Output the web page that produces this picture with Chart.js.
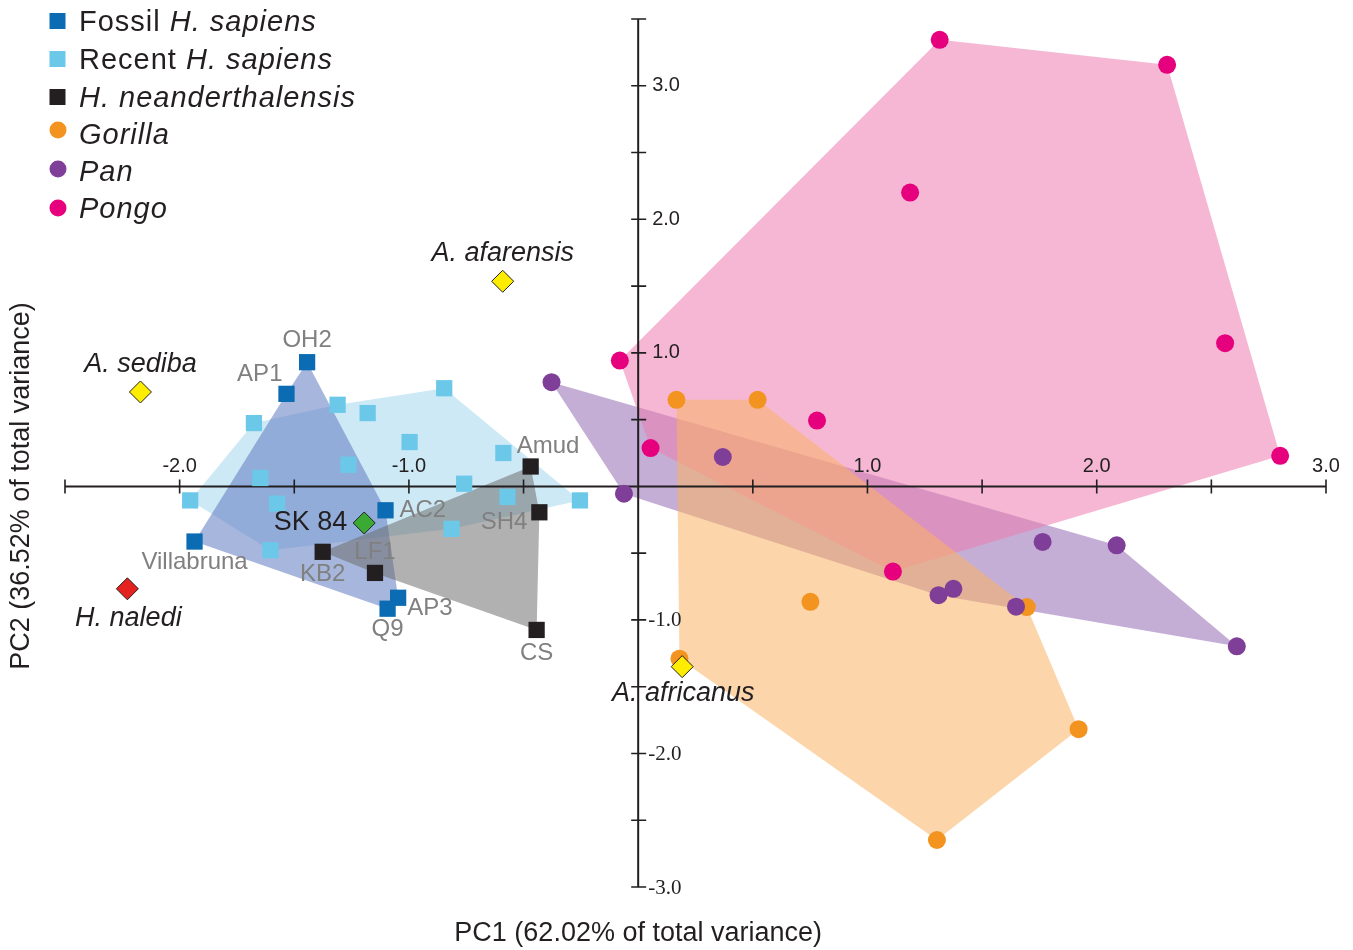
<!DOCTYPE html>
<html>
<head>
<meta charset="utf-8">
<script src="https://cdn.jsdelivr.net/npm/chart.js@4.4.0/dist/chart.umd.min.js"></script>
<style>
  html, body { margin: 0; padding: 0; background: #ffffff; }
  canvas { display: block; }
</style>
</head>
<body>
<canvas id="pca" width="1353" height="950"></canvas>
<script>
// ---- PC scores (PC1, PC2) per group ----
const fossilSapiensIds = ['OH2', 'AP1', 'Villabruna', 'AC2', 'AP3', 'Q9'];
const fossilSapiensPC1 = [-1.444, -1.534, -1.935, -1.102, -1.047, -1.093];
const fossilSapiensPC2 = [0.930, 0.693, -0.413, -0.179, -0.834, -0.916];

const recentSapiensPC1 = [-1.676, -1.311, -1.180, -0.846, -0.997, -1.264, -1.648, -1.954, -1.575, -1.604, -0.588, -0.759, -0.570, -0.254, -0.814];
const recentSapiensPC2 = [0.474, 0.611, 0.549, 0.735, 0.332, 0.162, 0.063, -0.105, -0.129, -0.478, 0.250, 0.020, -0.079, -0.105, -0.318];

const neanderthalIds = ['Amud', 'SH4', 'CS', 'KB2', 'LF1'];
const neanderthalPC1 = [-0.469, -0.431, -0.443, -1.376, -1.148];
const neanderthalPC2 = [0.149, -0.194, -1.075, -0.490, -0.648];

const gorillaPC1 = [0.167, 0.521, 0.751, 1.695, 1.921, 1.303, 0.180];
const gorillaPC2 = [0.648, 0.648, -0.864, -0.904, -1.818, -2.648, -1.290];

const panPC1 = [-0.378, -0.062, 0.369, 1.764, 2.087, 1.310, 1.375, 1.648, 2.611];
const panPC2 = [0.780, -0.055, 0.220, -0.416, -0.441, -0.815, -0.767, -0.901, -1.198];

const pongoPC1 = [-0.080, 0.054, 0.780, 1.111, 1.315, 2.307, 1.186, 2.560, 2.800];
const pongoPC2 = [0.942, 0.287, 0.493, -0.638, 3.344, 3.157, 2.200, 1.072, 0.229];

// Individual specimens shown as diamonds
const singleIds = ['A. sediba', 'H. naledi', 'SK 84', 'A. afarensis', 'A. africanus'];
const singlePC1 = [-2.171, -2.228, -1.195, -0.591, 0.192];
const singlePC2 = [0.707, -0.767, -0.274, 1.536, -1.350];

// ---- axes ----
const xRange = [-2.5, 3.0];
const yRange = [-3.0, 3.5];
const xTickValues = [-2.5, -2.0, -1.5, -1.0, -0.5, 0.5, 1.0, 1.5, 2.0, 2.5, 3.0];
const yTickValues = [3.5, 3.0, 2.5, 2.0, 1.5, 1.0, 0.5, -0.5, -1.0, -1.5, -2.0, -2.5, -3.0];
const xTickLabelValues = [-2.0, -1.0, 1.0, 2.0, 3.0];
const xTickLabels = ['-2.0', '-1.0', '1.0', '2.0', '3.0'];
const yTickLabelValues = [3.0, 2.0, 1.0, -1.0, -2.0, -3.0];
const yTickLabels = ['3.0', '2.0', '1.0', '-1.0', '-2.0', '-3.0'];
const xTitle = 'PC1 (62.02% of total variance)';
const yTitle = 'PC2 (36.52% of total variance)';

// ---- legend entries: [plain part, italic part] ----
const legendLabels = [
  ['Fossil ', 'H. sapiens'],
  ['Recent ', 'H. sapiens'],
  ['', 'H. neanderthalensis'],
  ['', 'Gorilla'],
  ['', 'Pan'],
  ['', 'Pongo']
];

// ---- styling ----
const INK = '#231f20';
const SANS = '"Liberation Sans", Arial, sans-serif';
const SERIF = '"Liberation Serif", "Times New Roman", serif';

const groupStyle = {
  fossil:  { color: '#0b6cb3', hull: 'rgba(95,122,192,0.55)',  shape: 'rect',   r: 11.5 },
  recent:  { color: '#6cc8e8', hull: 'rgba(166,215,239,0.55)', shape: 'rect',   r: 11.5 },
  neander: { color: '#231f20', hull: 'rgba(105,105,105,0.52)', shape: 'rect',   r: 11.5 },
  gorilla: { color: '#f39320', hull: 'rgba(250,179,100,0.55)', shape: 'circle', r: 9 },
  pan:     { color: '#7f3f98', hull: 'rgba(148,108,179,0.55)', shape: 'circle', r: 9 },
  pongo:   { color: '#e6007e', hull: 'rgba(237,124,175,0.55)', shape: 'circle', r: 9 }
};
const singleColors = ['#ffed00', '#e42320', '#3aaa35', '#ffed00', '#ffed00'];

// Label placement around each marker (pixel offsets)
const labelPlacement = {
  'OH2':          { dx: 0,   dy: -22, align: 'center', kind: 'specimen' },
  'AP1':          { dx: -4,  dy: -19, align: 'right',  kind: 'specimen' },
  'Villabruna':   { dx: 0,   dy: 21,  align: 'center', kind: 'specimen' },
  'AC2':          { dx: 14,  dy: 0,   align: 'left',   kind: 'specimen' },
  'AP3':          { dx: 9,   dy: 11,  align: 'left',   kind: 'specimen' },
  'Q9':           { dx: 0,   dy: 21,  align: 'center', kind: 'specimen' },
  'Amud':         { dx: -14, dy: -20, align: 'left',   kind: 'specimen' },
  'SH4':          { dx: -12, dy: 10,  align: 'right',  kind: 'specimen' },
  'CS':           { dx: 0,   dy: 23,  align: 'center', kind: 'specimen' },
  'KB2':          { dx: 0,   dy: 23,  align: 'center', kind: 'specimen' },
  'LF1':          { dx: 0,   dy: -21, align: 'center', kind: 'specimen' },
  'SK 84':        { dx: -17, dy: 0,   align: 'right',  kind: 'focus' },
  'A. sediba':    { dx: 0,   dy: -27, align: 'center', kind: 'species' },
  'H. naledi':    { dx: 1,   dy: 30,  align: 'center', kind: 'species' },
  'A. afarensis': { dx: 0,   dy: -28, align: 'center', kind: 'species' },
  'A. africanus': { dx: 1,   dy: 27,  align: 'center', kind: 'species' }
};

// ---- helpers ----
function toPoints(xs, ys, ids) {
  return xs.map((v, i) => ({ x: v, y: ys[i], id: ids ? ids[i] : null }));
}

// Andrew's monotone chain; returns a closed ring
function convexHull(pts) {
  const p = pts.map(q => ({ x: q.x, y: q.y })).sort((a, b) => a.x - b.x || a.y - b.y);
  const cross = (o, a, b) => (a.x - o.x) * (b.y - o.y) - (a.y - o.y) * (b.x - o.x);
  const lower = [], upper = [];
  for (const q of p) {
    while (lower.length >= 2 && cross(lower[lower.length - 2], lower[lower.length - 1], q) <= 0) lower.pop();
    lower.push(q);
  }
  for (let i = p.length - 1; i >= 0; i--) {
    const q = p[i];
    while (upper.length >= 2 && cross(upper[upper.length - 2], upper[upper.length - 1], q) <= 0) upper.pop();
    upper.push(q);
  }
  lower.pop(); upper.pop();
  const ring = lower.concat(upper);
  ring.push(ring[0]);
  return ring;
}

const groups = {
  fossil:  toPoints(fossilSapiensPC1, fossilSapiensPC2, fossilSapiensIds),
  recent:  toPoints(recentSapiensPC1, recentSapiensPC2),
  neander: toPoints(neanderthalPC1, neanderthalPC2, neanderthalIds),
  gorilla: toPoints(gorillaPC1, gorillaPC2),
  pan:     toPoints(panPC1, panPC2),
  pongo:   toPoints(pongoPC1, pongoPC2)
};
const singles = toPoints(singlePC1, singlePC2, singleIds);

function hullDataset(key, order) {
  return {
    type: 'line',
    data: convexHull(groups[key]),
    fill: 'shape',
    backgroundColor: groupStyle[key].hull,
    borderColor: 'rgba(0,0,0,0)',
    borderWidth: 0,
    pointRadius: 0,
    tension: 0,
    order: order
  };
}
function pointDataset(key, order) {
  const s = groupStyle[key];
  return {
    type: 'scatter',
    data: groups[key],
    pointStyle: s.shape,
    pointRadius: s.r,
    pointBackgroundColor: s.color,
    pointBorderWidth: 0,
    pointBorderColor: s.color,
    clip: false,
    order: order
  };
}

const datasets = [
  hullDataset('pan', 26),
  hullDataset('pongo', 25),
  hullDataset('gorilla', 24),
  hullDataset('recent', 23),
  hullDataset('fossil', 22),
  hullDataset('neander', 21),
  pointDataset('recent', 9),
  pointDataset('fossil', 8),
  pointDataset('neander', 7),
  pointDataset('gorilla', 6),
  pointDataset('pan', 5),
  pointDataset('pongo', 4),
  {
    type: 'scatter',
    data: singles,
    pointStyle: 'rectRot',
    pointRadius: 11,
    pointBackgroundColor: singleColors,
    pointBorderColor: INK,
    pointBorderWidth: 1,
    clip: false,
    order: 1
  }
];

// ---- drawing of axes, labels and legend ----
function drawAxes(chart) {
  const { ctx, scales: { x, y } } = chart;
  const x0 = x.getPixelForValue(0);
  const y0 = y.getPixelForValue(0);
  ctx.save();
  ctx.strokeStyle = INK;
  ctx.lineWidth = 2;
  ctx.beginPath();
  ctx.moveTo(x.getPixelForValue(xRange[0]), y0);
  ctx.lineTo(x.getPixelForValue(xRange[1]), y0);
  ctx.moveTo(x0, y.getPixelForValue(yRange[1]));
  ctx.lineTo(x0, y.getPixelForValue(yRange[0]));
  ctx.stroke();

  ctx.lineWidth = 1.6;
  ctx.beginPath();
  xTickValues.forEach(v => {
    const px = x.getPixelForValue(v);
    ctx.moveTo(px, y0 - 7);
    ctx.lineTo(px, y0 + 7);
  });
  yTickValues.forEach(v => {
    const py = y.getPixelForValue(v);
    ctx.moveTo(x0 - 7, py);
    ctx.lineTo(x0 + 8, py);
  });
  ctx.stroke();

  ctx.fillStyle = INK;
  ctx.font = '20px ' + SANS;
  ctx.textAlign = 'center';
  ctx.textBaseline = 'middle';
  xTickLabelValues.forEach((v, i) => {
    ctx.fillText(xTickLabels[i], x.getPixelForValue(v), y0 - 19.5);
  });
  ctx.textAlign = 'left';
  yTickLabelValues.forEach((v, i) => {
    if (v < 0) {
      ctx.font = '21px ' + SERIF;
      ctx.fillText(yTickLabels[i], x0 + 10, y.getPixelForValue(v) + 1);
    } else {
      ctx.font = '20px ' + SANS;
      ctx.fillText(yTickLabels[i], x0 + 14, y.getPixelForValue(v));
    }
  });
  ctx.restore();
}

function drawTitles(chart) {
  const { ctx, scales: { x } } = chart;
  ctx.save();
  ctx.fillStyle = INK;
  ctx.font = '27px ' + SANS;
  ctx.textAlign = 'center';
  ctx.textBaseline = 'middle';
  ctx.fillText(xTitle, x.getPixelForValue(0), 934);
  ctx.translate(22, 486);
  ctx.rotate(-Math.PI / 2);
  ctx.fillText(yTitle, 0, 0);
  ctx.restore();
}

function drawLabels(chart) {
  const { ctx, scales: { x, y } } = chart;
  const all = [...groups.fossil, ...groups.neander, ...singles].filter(p => p.id);
  ctx.save();
  ctx.textBaseline = 'middle';
  all.forEach(p => {
    const pl = labelPlacement[p.id];
    if (!pl) return;
    if (pl.kind === 'specimen') { ctx.font = '24px ' + SANS; ctx.fillStyle = '#808080'; }
    else if (pl.kind === 'focus') { ctx.font = '27px ' + SANS; ctx.fillStyle = INK; }
    else { ctx.font = 'italic 27px ' + SANS; ctx.fillStyle = INK; }
    ctx.textAlign = pl.align;
    ctx.fillText(p.id, x.getPixelForValue(p.x) + pl.dx, y.getPixelForValue(p.y) + pl.dy);
  });
  ctx.restore();
}

function drawLegend(chart) {
  const ctx = chart.ctx;
  const keys = ['fossil', 'recent', 'neander', 'gorilla', 'pan', 'pongo'];
  const textY = [23, 61, 99, 136, 173, 210];
  const markY = [21, 59, 97, 130, 169, 208];
  ctx.save();
  ctx.textBaseline = 'middle';
  ctx.textAlign = 'left';
  if ('letterSpacing' in ctx) ctx.letterSpacing = '1px';
  keys.forEach((k, i) => {
    const s = groupStyle[k];
    ctx.fillStyle = s.color;
    if (s.shape === 'rect') {
      ctx.fillRect(57.5 - 8, markY[i] - 8, 16, 16);
    } else {
      ctx.beginPath();
      ctx.arc(58, markY[i], 8.5, 0, Math.PI * 2);
      ctx.fill();
    }
    ctx.fillStyle = INK;
    let tx = 79;
    const [plain, ital] = legendLabels[i];
    if (plain) {
      ctx.font = '29px ' + SANS;
      ctx.fillText(plain, tx, textY[i]);
      tx += ctx.measureText(plain).width;
    }
    ctx.font = 'italic 29px ' + SANS;
    ctx.fillText(ital, tx, textY[i]);
  });
  ctx.restore();
}

const pcaOverlay = {
  id: 'pcaOverlay',
  beforeDatasetsDraw(chart) { drawAxes(chart); },
  afterDatasetsDraw(chart) {
    drawLabels(chart);
    drawLegend(chart);
    drawTitles(chart);
  }
};

new Chart(document.getElementById('pca'), {
  type: 'scatter',
  data: { datasets },
  options: {
    responsive: false,
    devicePixelRatio: 1,
    animation: false,
    events: [],
    layout: { padding: { left: 65, right: 27, top: 19, bottom: 63 } },
    scales: {
      x: { type: 'linear', min: xRange[0], max: xRange[1], display: false },
      y: { type: 'linear', min: yRange[0], max: yRange[1], display: false }
    },
    plugins: {
      legend: { display: false },
      tooltip: { enabled: false },
      filler: { drawTime: 'beforeDatasetsDraw' }
    }
  },
  plugins: [pcaOverlay]
});
</script>
</body>
</html>
